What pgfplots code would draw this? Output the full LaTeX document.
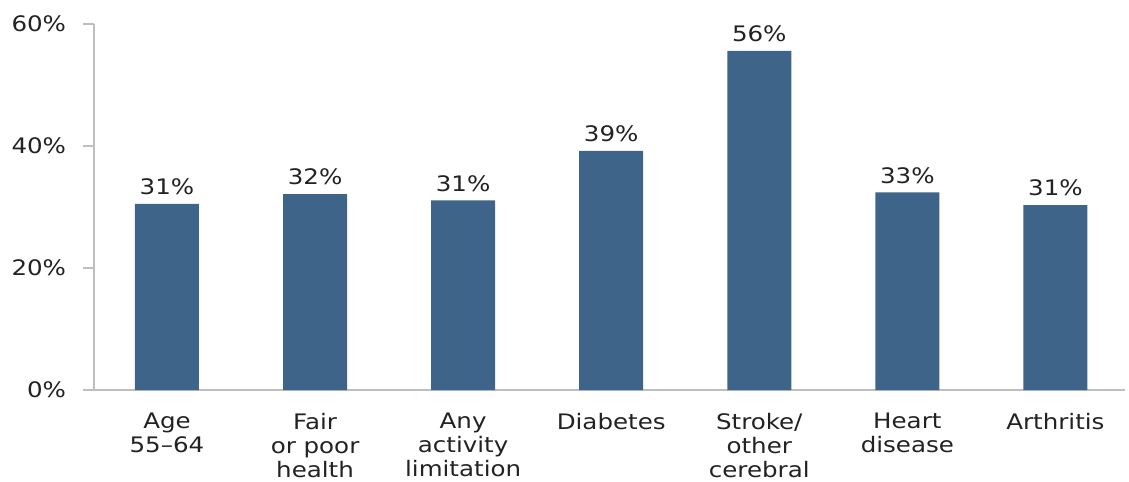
\documentclass[border=0pt]{standalone}
\usepackage{pgfplots}
\usepackage{pgfplotstable}
\pgfplotsset{compat=1.18}
\usepackage{fontspec}
\setmainfont{DejaVu Sans}[FakeStretch=1.15]
\definecolor{barblue}{RGB}{63,100,137}
\definecolor{axisgray}{RGB}{190,190,190}
\definecolor{txt}{RGB}{34,34,34}
\newcommand{\lblfont}{\fontsize{16}{18}\selectfont}

\pgfplotstableread{
x y lab
0 30.5 31
1 32.1 32
2 31.1 31
3 39.2 39
4 55.6 56
5 32.4 33
6 30.3 31
}\data

\begin{document}
\begin{tikzpicture}
\useasboundingbox (-70.5pt,-69pt) rectangle (776.25pt,292.5pt);
\begin{axis}[
  at={(0pt,0pt)}, anchor=south west,
  scale only axis, width=773.25pt, height=274.5pt,
  ymin=0, ymax=60, xmin=-0.493, xmax=6.47,
  enlargelimits=false, clip=false,
  axis x line*=bottom, axis y line*=left,
  axis line style={axisgray, line width=1pt, -},
  ytick={0,20,40,60}, yticklabels={0\%,20\%,40\%,60\%},
  tick align=outside, major tick length=8pt,
  ytick style={axisgray, line width=1pt},
  xtick=data, xtick style={draw=none},
  xticklabels={{Age\\55–64},{Fair\\or poor\\health},{Any\\activity\\limitation},{Diabetes},{Stroke/\\other\\cerebral},{Heart\\disease},{Arthritis}},
  xticklabel style={align=center, font=\lblfont, text=txt, anchor=north, inner sep=0pt, yshift=-9.3pt},
  yticklabel style={font=\lblfont, text=txt, anchor=east, inner sep=0pt, xshift=-12.75pt},
  ybar, bar width=48pt,
  point meta=explicit symbolic,
  nodes near coords={\pgfplotspointmeta\%},
  nodes near coords style={font=\lblfont, text=txt, anchor=south, inner sep=0pt, yshift=6.5pt},
]
\addplot[fill=barblue, draw=none] table[x=x, y=y, meta=lab] {\data};
\end{axis}
\end{tikzpicture}
\end{document}
